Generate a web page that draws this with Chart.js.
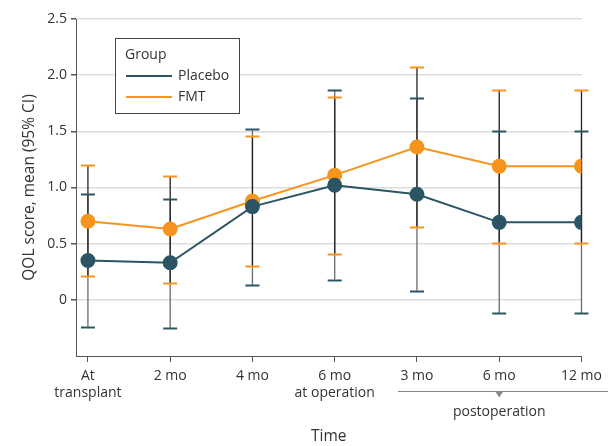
<!DOCTYPE html>
<html>
<head>
<meta charset="utf-8">
<script src="https://cdn.jsdelivr.net/npm/chart.js@4"></script>
<style>
  html, body { margin: 0; padding: 0; background: #fff; }
  #wrap { width: 608px; height: 446px; }
</style>
</head>
<body>
<div id="wrap"><canvas id="myChart" width="608" height="446"></canvas></div>
<script>
const categories = [['At', 'transplant'], '2 mo', '4 mo', ['6 mo', 'at operation'], '3 mo', '6 mo', '12 mo'];
const placeboMean = [0.35, 0.33, 0.83, 1.02, 0.94, 0.69, 0.69];
const placeboLower = [-0.24, -0.25, 0.13, 0.18, 0.08, -0.12, -0.12];
const placeboUpper = [0.94, 0.90, 1.52, 1.87, 1.80, 1.50, 1.50];
const fmtMean = [0.70, 0.63, 0.88, 1.11, 1.36, 1.19, 1.19];
const fmtLower = [0.21, 0.15, 0.30, 0.41, 0.65, 0.51, 0.51];
const fmtUpper = [1.20, 1.10, 1.46, 1.81, 2.07, 1.87, 1.87];
const yTicks = [0, 0.5, 1, 1.5, 2, 2.5];

const teal = '#2b5563';
const orange = '#f7941d';
const FONT = '"Open Sans", sans-serif';
const FS = 14;
const TFS = 15.5;

const toPoints = arr => arr.map((v, i) => ({ x: i, y: v }));

// error bars under the lines
const errorBars = {
  id: 'errorBars',
  beforeDatasetsDraw(chart) {
    const ctx = chart.ctx;
    const x = chart.scales.x, y = chart.scales.y;
    const sets = [
      { lo: placeboLower, hi: placeboUpper, cap: teal, stem: '#6a6a6a' },
      { lo: fmtLower, hi: fmtUpper, cap: orange, stem: '#222' }
    ];
    ctx.save();
    sets.forEach(s => {
      s.lo.forEach((lo, i) => {
        const px = x.getPixelForValue(i);
        ctx.strokeStyle = s.stem;
        ctx.lineWidth = 1.3;
        ctx.beginPath();
        ctx.moveTo(px, y.getPixelForValue(lo));
        ctx.lineTo(px, y.getPixelForValue(s.hi[i]));
        ctx.stroke();
      });
    });
    sets.forEach(s => {
      s.lo.forEach((lo, i) => {
        const px = x.getPixelForValue(i);
        ctx.strokeStyle = s.cap;
        ctx.lineWidth = 2;
        [lo, s.hi[i]].forEach(v => {
          const py = Math.round(y.getPixelForValue(v)) + 0.5;
          ctx.beginPath();
          ctx.moveTo(px - 7, py);
          ctx.lineTo(px + 7, py);
          ctx.stroke();
        });
      });
    });
    ctx.restore();
  }
};

// legend box and postoperation bracket
const extras = {
  id: 'extras',
  afterDraw(chart) {
    const ctx = chart.ctx;
    const x = chart.scales.x;
    ctx.save();
    // legend
    ctx.strokeStyle = '#444';
    ctx.lineWidth = 1;
    ctx.fillStyle = '#fff';
    ctx.fillRect(115.5, 38.5, 124, 75);
    ctx.strokeRect(115.5, 38.5, 124, 75);
    ctx.font = FS + 'px ' + FONT;
    ctx.fillStyle = '#333';
    ctx.textBaseline = 'middle';
    ctx.textAlign = 'left';
    ctx.fillText('Group', 125, 55);
    [['Placebo', teal, 76], ['FMT', orange, 97]].forEach(([t, c, yy]) => {
      ctx.strokeStyle = c;
      ctx.lineWidth = 2;
      ctx.beginPath();
      ctx.moveTo(126, yy);
      ctx.lineTo(172, yy);
      ctx.stroke();
      ctx.fillText(t, 178, yy);
    });
    // postoperation bracket
    const x0 = x.getPixelForValue(4) - 19;
    const xm = x.getPixelForValue(5);
    const yb = 391.5;
    ctx.strokeStyle = '#888';
    ctx.lineWidth = 1;
    ctx.beginPath();
    ctx.moveTo(x0, yb);
    ctx.lineTo(chart.width, yb);
    ctx.stroke();
    ctx.fillStyle = '#888';
    ctx.beginPath();
    ctx.moveTo(xm - 4, yb);
    ctx.lineTo(xm + 4, yb);
    ctx.lineTo(xm, yb + 6);
    ctx.closePath();
    ctx.fill();
    ctx.fillStyle = '#333';
    ctx.textAlign = 'center';
    ctx.fillText('postoperation', xm, 412);
    ctx.restore();
  }
};

const ctx = document.getElementById('myChart').getContext('2d');
const myChart = new Chart(ctx, {
  type: 'line',
  data: {
    datasets: [
      {
        label: 'Placebo',
        data: toPoints(placeboMean),
        borderColor: teal,
        backgroundColor: teal,
        pointBackgroundColor: teal,
        pointBorderColor: teal,
        borderWidth: 2,
        pointRadius: 6.5,
        pointHoverRadius: 6.5
      },
      {
        label: 'FMT',
        data: toPoints(fmtMean),
        borderColor: orange,
        backgroundColor: orange,
        pointBackgroundColor: orange,
        pointBorderColor: orange,
        borderWidth: 2,
        pointRadius: 6.5,
        pointHoverRadius: 6.5
      }
    ]
  },
  options: {
    responsive: false,
    animation: false,
    layout: { padding: { top: 19, right: 23, left: 0, bottom: 0 } },
    plugins: {
      legend: { display: false },
      tooltip: { enabled: false }
    },
    scales: {
      x: {
        type: 'linear',
        min: -0.145,
        max: 6,
        afterFit: s => { s.height = 90; },
        afterBuildTicks: s => { s.ticks = categories.map((c, i) => ({ value: i })); },
        ticks: {
          autoSkip: false,
          maxRotation: 0,
          padding: 6,
          color: '#333',
          font: { family: FONT, size: FS, lineHeight: 1.2 },
          callback: v => categories[v]
        },
        grid: { drawOnChartArea: false, tickLength: 6, tickColor: '#555' },
        border: { color: '#555', width: 1 },
        title: {
          display: true,
          text: 'Time',
          color: '#333',
          font: { family: FONT, size: TFS },
          padding: { top: 0, bottom: 0 }
        }
      },
      y: {
        min: -0.5,
        max: 2.5,
        afterFit: s => { s.width = 76; },
        afterBuildTicks: s => { s.ticks = yTicks.map(v => ({ value: v })); },
        ticks: {
          padding: 4,
          color: '#333',
          font: { family: FONT, size: FS },
          callback: v => v === 0 ? '0' : v.toFixed(1)
        },
        grid: { color: '#dddddd', lineWidth: 1.5, tickLength: 5, tickColor: '#555' },
        border: { color: '#555', width: 1 },
        title: {
          display: true,
          text: 'QOL score, mean (95% CI)',
          color: '#333',
          font: { family: FONT, size: TFS },
          padding: { top: 20.5, bottom: 0 }
        }
      }
    }
  },
  plugins: [errorBars, extras]
});
</script>
</body>
</html>
